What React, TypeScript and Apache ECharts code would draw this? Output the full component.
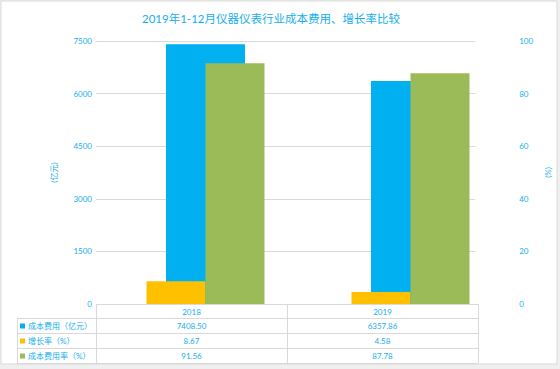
import React, { useEffect, useRef } from "react";
import * as echarts from "echarts";

const title = "2019年1-12月仪器仪表行业成本费用、增长率比较";
const categories = ["2018", "2019"];
const seriesNames = ["成本费用（亿元）", "增长率（%）", "成本费用率（%）"];
const costValues = [7408.5, 6357.86];
const growthValues = [8.67, 4.58];
const costRateValues = [91.56, 87.78];
const tableLabels = [["7408.50", "6357.86"], ["8.67", "4.58"], ["91.56", "87.78"]];
const colors = ["#00B0F0", "#FFC000", "#9BBB59"];
const leftAxisName = "(亿元)";
const rightAxisName = "(%)";

const TEXT = "#14AEEE";
const LINE = "#D9D9D9";
const FONT = "Lato, 'Noto Sans CJK SC', sans-serif";

export default function App() {
  const ref = useRef<HTMLDivElement>(null);
  useEffect(() => {
    document.body.style.margin = "0";
    const chart = echarts.init(ref.current!, null, { renderer: "svg" });

    const gl = 96, gr = 478, gt = 41, gb = 304;
    const colW = (gr - gl) / categories.length;
    const rowYs = [304, 318, 333, 348, 363];
    const tableLeft = 17;

    const graphics: any[] = [];
    graphics.push({
      type: "rect", z: -100, silent: true,
      shape: { x: 1, y: 1, width: 556, height: 363 },
      style: { fill: "#fff", stroke: LINE, lineWidth: 1 },
    });
    rowYs.forEach((y, i) => {
      graphics.push({
        type: "line", z: 10, silent: true,
        shape: { x1: i === 0 ? gl : tableLeft, y1: y + 0.5, x2: gr, y2: y + 0.5 },
        style: { stroke: LINE, lineWidth: 1 },
      });
    });
    graphics.push({
      type: "line", z: 10, silent: true,
      shape: { x1: tableLeft + 0.5, y1: rowYs[1], x2: tableLeft + 0.5, y2: rowYs[4] },
      style: { stroke: LINE, lineWidth: 1 },
    });
    for (let c = 0; c <= categories.length; c++) {
      const x = Math.round(gl + c * colW) + 0.5;
      graphics.push({
        type: "line", z: 10, silent: true,
        shape: { x1: x, y1: rowYs[0], x2: x, y2: rowYs[4] },
        style: { stroke: LINE, lineWidth: 1 },
      });
    }
    categories.forEach((cat, c) => {
      graphics.push({
        type: "text", z: 11,
        x: gl + (c + 0.5) * colW, y: (rowYs[0] + rowYs[1]) / 2 + 1,
        style: { text: cat, fill: TEXT, font: `8px ${FONT}`, align: "center", verticalAlign: "middle" },
      });
    });
    seriesNames.forEach((name, r) => {
      const cy = (rowYs[r + 1] + rowYs[r + 2]) / 2 + 0.5;
      graphics.push({
        type: "rect", z: 11,
        shape: { x: 20, y: cy - 2.5, width: 5, height: 5 },
        style: { fill: colors[r] },
      });
      graphics.push({
        type: "text", z: 11, x: 28, y: cy,
        style: { text: name, fill: TEXT, font: `8px ${FONT}`, align: "left", verticalAlign: "middle" },
      });
      tableLabels[r].forEach((v, c) => {
        graphics.push({
          type: "text", z: 11,
          x: gl + (c + 0.5) * colW, y: cy,
          style: { text: v, fill: TEXT, font: `8px ${FONT}`, align: "center", verticalAlign: "middle" },
        });
      });
    });

    const labelStyle = { color: TEXT, fontSize: 8, fontFamily: FONT, formatter: (v: number) => String(v) };

    chart.setOption({
      animation: false,
      backgroundColor: "transparent",
      title: {
        text: title, left: 266, top: 8, textAlign: "center",
        textStyle: { color: TEXT, fontSize: 11.5, fontWeight: "normal", fontFamily: FONT },
      },
      grid: [
        { left: gl, top: gt, width: gr - gl, height: gb - gt },
        { left: 103, top: gt, width: 410, height: gb - gt },
      ],
      xAxis: [
        { type: "category", gridIndex: 0, data: categories, axisLine: { show: false }, axisTick: { show: false }, axisLabel: { show: false } },
        { type: "category", gridIndex: 1, data: categories, show: false },
        { type: "category", gridIndex: 1, data: categories, show: false },
      ],
      yAxis: [
        {
          type: "value", gridIndex: 0, min: 0, max: 7500, interval: 1500, position: "left",
          axisLine: { show: false }, axisTick: { show: false },
          axisLabel: { ...labelStyle, margin: 4 },
          splitLine: { lineStyle: { color: LINE } },
          name: leftAxisName, nameLocation: "middle", nameRotate: 90, nameGap: 38,
          nameTextStyle: { color: TEXT, fontSize: 8, fontFamily: FONT },
        },
        {
          type: "value", gridIndex: 0, min: 0, max: 100, interval: 20, position: "right",
          axisLine: { show: false }, axisTick: { show: false },
          axisLabel: { ...labelStyle, margin: 44 },
          splitLine: { show: false },
          name: rightAxisName, nameLocation: "middle", nameRotate: 90, nameGap: 65,
          nameTextStyle: { color: TEXT, fontSize: 8, fontFamily: FONT },
        },
        { type: "value", gridIndex: 1, min: 0, max: 7500, show: false },
        { type: "value", gridIndex: 1, min: 0, max: 100, show: false },
      ],
      series: [
        {
          name: seriesNames[0], type: "bar", xAxisIndex: 1, yAxisIndex: 2,
          data: costValues, barWidth: 79, itemStyle: { color: colors[0] }, z: 2,
        },
        {
          name: seriesNames[1], type: "bar", xAxisIndex: 2, yAxisIndex: 3,
          data: growthValues, barWidth: 59, barGap: "0%", itemStyle: { color: colors[1] }, z: 3,
        },
        {
          name: seriesNames[2], type: "bar", xAxisIndex: 2, yAxisIndex: 3,
          data: costRateValues, barWidth: 59, barGap: "0%", itemStyle: { color: colors[2] }, z: 3,
        },
      ],
      graphic: graphics,
    });
    return () => chart.dispose();
  }, []);
  return <div ref={ref} style={{ width: 560, height: 369, background: "#EFEFEF" }} />;
}
